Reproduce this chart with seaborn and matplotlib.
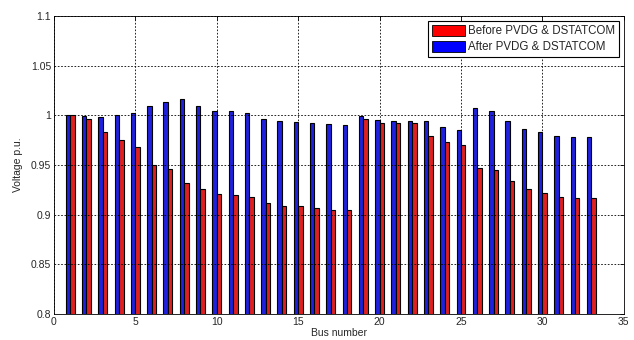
import pandas as pd
import seaborn as sns
import matplotlib.pyplot as plt
from matplotlib.patches import Patch

# bus voltages
buses = list(range(1, 34))
before = [1.000, 0.9967, 0.983, 0.975, 0.968, 0.9497, 0.9457, 0.932, 0.926, 0.9203,
          0.9193, 0.918, 0.9117, 0.909, 0.9083, 0.907, 0.9043, 0.9043, 0.9967, 0.9927,
          0.992, 0.992, 0.979, 0.973, 0.9697, 0.947, 0.945, 0.934, 0.926, 0.9217,
          0.918, 0.917, 0.9163]
after = [1.000, 0.9993, 0.9983, 1.000, 1.0023, 1.009, 1.0137, 1.016, 1.0097, 1.0047,
         1.004, 1.002, 0.9967, 0.9943, 0.9937, 0.992, 0.9907, 0.9897, 0.9993, 0.995,
         0.9943, 0.9943, 0.9943, 0.988, 0.985, 1.0073, 1.0047, 0.9943, 0.9863, 0.983,
         0.9793, 0.9783, 0.9777]
labels = ['Before PVDG & DSTATCOM', 'After PVDG & DSTATCOM']

df = pd.DataFrame({
    'bus': buses * 2,
    'v': after + before,
    'case': [labels[1]] * 33 + [labels[0]] * 33,
})

sns.set_style('white')
plt.rcParams['font.family'] = ['Liberation Sans', 'DejaVu Sans']

fig = plt.figure(figsize=(6.34, 3.4), dpi=100)
ax = fig.add_axes([0.085, 0.077, 0.899, 0.876])

sns.barplot(data=df, x='bus', y='v', hue='case', hue_order=[labels[1], labels[0]],
            palette={labels[0]: '#ff0000', labels[1]: '#0000ff'},
            native_scale=True, width=0.55, edgecolor='black', linewidth=0.8,
            legend=False, ax=ax)

ax.set_xlim(0, 35)
ax.set_ylim(0.8, 1.1)
ax.set_xticks(range(0, 36, 5))
ax.set_yticks([0.8, 0.85, 0.9, 0.95, 1.0, 1.05, 1.1])
ax.set_yticklabels(['0.8', '0.85', '0.9', '0.95', '1', '1.05', '1.1'])
ax.grid(True, linestyle=(0, (2, 2)), color='black', linewidth=0.6)
ax.set_axisbelow(False)
ax.tick_params(direction='in', top=True, right=True, labelsize=7.5, length=3,
               width=0.6, color='black', pad=2)
for s in ax.spines.values():
    s.set_color('black')
    s.set_linewidth(0.6)
ax.set_xlabel('Bus number', fontsize=7.5, labelpad=1)
ax.set_ylabel('Voltage p.u.', fontsize=7.5, labelpad=6)

handles = [Patch(facecolor='#ff0000', edgecolor='black', linewidth=0.6),
           Patch(facecolor='#0000ff', edgecolor='black', linewidth=0.6)]
leg = ax.legend(handles, labels, loc='upper right', fontsize=8.3, frameon=True,
                fancybox=False, framealpha=1, edgecolor='black',
                borderaxespad=0.4, handlelength=2.8, handleheight=1.1,
                handletextpad=0.3, labelspacing=0.3, borderpad=0.35)
leg.get_frame().set_linewidth(0.8)

fig.savefig('out.png', dpi=100)
